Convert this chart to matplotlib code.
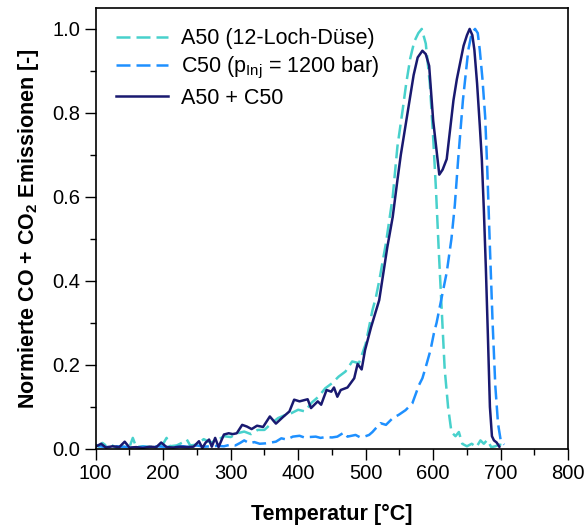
import numpy as np
import matplotlib.pyplot as plt
from matplotlib.ticker import MultipleLocator

plt.rcParams['font.family'] = ['Liberation Sans', 'DejaVu Sans']
plt.rcParams['mathtext.default'] = 'regular'

# A50 (12-Loch-Duese)
t_a50 = [100, 105, 110, 115, 120, 130, 140, 150, 155, 160,
         170, 180, 190, 200, 205, 210, 220, 230, 235, 240,
         250, 260, 270, 280, 290, 300, 310, 320, 330, 340,
         350, 360, 370, 380, 390, 400, 410, 420, 430, 440,
         450, 460, 470, 480, 490, 500, 505, 510, 515, 520,
         530, 540, 547, 555, 560, 566, 572, 578, 583, 589,
         595, 600, 604, 608, 612, 617, 622, 627, 633, 638,
         643, 650, 657, 664, 670, 675, 680, 686, 692, 698, 704]
v_a50 = [0.01, 0.005, 0.014, 0.008, 0.012, 0.003, 0.005, 0.004, 0.026, 0.004,
         0.006, 0.004, 0.006, 0.012, 0.026, 0.006, 0.008, 0.016, 0.022, 0.008,
         0.01, 0.023, 0.015, 0.02, 0.03, 0.028, 0.037, 0.041, 0.035, 0.045,
         0.045, 0.06, 0.073, 0.08, 0.085, 0.093, 0.089, 0.11, 0.124, 0.144,
         0.156, 0.172, 0.184, 0.208, 0.204, 0.25, 0.29, 0.33, 0.36, 0.40,
         0.49, 0.60, 0.72, 0.81, 0.87, 0.93, 0.97, 0.99, 1.0, 0.965,
         0.87, 0.74, 0.62, 0.48, 0.35, 0.19, 0.10, 0.04, 0.03, 0.04,
         0.012, 0.006, 0.012, 0.004, 0.02, 0.012, 0.021, 0.004, 0.006, 0.01, 0.008]

# C50 (p_Inj = 1200 bar)
t_c50 = [100, 110, 120, 130, 140, 150, 160, 170, 180, 190,
         200, 210, 220, 230, 240, 250, 260, 270, 280, 290,
         300, 307, 314, 320, 328, 335, 343, 352, 360, 367,
         375, 383, 392, 402, 409, 416, 426, 433, 441, 450,
         458, 463, 468, 473, 479, 485, 491, 498, 505, 510,
         515, 522, 530, 540, 549, 559, 569, 579, 584, 589,
         596, 601, 605, 610, 615, 620, 627, 632, 637, 644,
         652, 657, 662, 666, 669, 673, 677, 680, 684, 688,
         692, 696, 700, 705]
v_c50 = [0.008, 0.005, 0.004, 0.006, 0.005, 0.004, 0.003, 0.005, 0.004, 0.006,
         0.005, 0.004, 0.005, 0.006, 0.004, 0.008, 0.005, 0.006, 0.007, 0.006,
         0.01, 0.008, 0.014, 0.02, 0.013, 0.016, 0.012, 0.013, 0.015, 0.017,
         0.025, 0.022, 0.029, 0.031, 0.027, 0.028, 0.029, 0.026, 0.028, 0.027,
         0.029, 0.034, 0.039, 0.029, 0.031, 0.033, 0.028, 0.029, 0.033, 0.04,
         0.049, 0.061, 0.057, 0.073, 0.081, 0.092, 0.108, 0.152, 0.168, 0.195,
         0.235, 0.275, 0.30, 0.34, 0.38, 0.42, 0.50, 0.58, 0.69, 0.83,
         0.95, 0.99, 1.0, 0.99, 0.95, 0.88, 0.79, 0.67, 0.48, 0.30,
         0.15, 0.06, 0.02, 0.01]

# A50 + C50
t_mix = [100, 108, 115, 125, 135, 143, 150, 160, 170, 180,
         190, 197, 205, 215, 225, 235, 245, 253, 258, 263,
         268, 272, 277, 282, 290, 297, 303, 309, 317, 324,
         331, 339, 348, 358, 367, 377, 387, 394, 402, 414,
         419, 429, 434, 442, 449, 453, 458, 463, 473, 483,
         488, 494, 499, 508, 514, 520, 532, 540, 547, 552,
         558, 565, 571, 577, 584, 589, 594, 600, 605, 609,
         614, 620, 625, 630, 635, 640, 645, 650, 654, 658,
         661, 665, 669, 672, 675, 678, 681, 684, 687, 690,
         694, 698]
v_mix = [0.005, 0.012, 0.003, 0.006, 0.004, 0.017, 0.003, 0.004, 0.002, 0.005,
         0.004, 0.015, 0.004, 0.003, 0.005, 0.004, 0.005, 0.018, 0.002, 0.015,
         0.022, 0.005, 0.026, 0.004, 0.034, 0.037, 0.035, 0.037, 0.057, 0.053,
         0.047, 0.055, 0.052, 0.077, 0.06, 0.075, 0.089, 0.117, 0.113, 0.118,
         0.097, 0.113, 0.105, 0.14, 0.136, 0.146, 0.124, 0.14, 0.146, 0.168,
         0.202, 0.189, 0.235, 0.29, 0.322, 0.354, 0.48, 0.552, 0.64, 0.70,
         0.76, 0.83, 0.89, 0.932, 0.948, 0.94, 0.912, 0.781, 0.71, 0.653,
         0.665, 0.69, 0.76, 0.83, 0.88, 0.92, 0.96, 0.985, 1.0, 0.985,
         0.95, 0.87, 0.77, 0.69, 0.57, 0.43, 0.27, 0.10, 0.03, 0.02,
         0.015, 0.005]

fig = plt.figure(figsize=(5.87, 5.28), dpi=100)
ax = fig.add_axes([0.163, 0.150, 0.805, 0.835])

ax.plot(t_a50, v_a50, color='#48D1CC', lw=1.8, dashes=(5.6, 2.4), label='A50 (12-Loch-Düse)')
ax.plot(t_c50, v_c50, color='#1E90FF', lw=1.8, dashes=(5.6, 2.4), label=r'C50 (p$_{Inj}$ = 1200 bar)')
ax.plot(t_mix, v_mix, color='#191970', lw=1.8, label='A50 + C50')

ax.set_xlim(100, 800)
ax.set_ylim(0, 1.05)
ax.xaxis.set_major_locator(MultipleLocator(100))
ax.xaxis.set_minor_locator(MultipleLocator(50))
ax.yaxis.set_major_locator(MultipleLocator(0.2))
ax.yaxis.set_minor_locator(MultipleLocator(0.1))
ax.yaxis.set_major_formatter(plt.FormatStrFormatter('%.1f'))
ax.tick_params(which='major', length=8, width=1, labelsize=14.5, direction='out', pad=3)
ax.tick_params(which='minor', length=4.5, width=1, direction='out')
for s in ax.spines.values():
    s.set_linewidth(1.2)

ax.set_xlabel('Temperatur [°C]', fontsize=15.5, fontweight='bold', labelpad=15)
ax.set_ylabel(r'Normierte CO + CO$_2$ Emissionen [-]', fontsize=15.5, fontweight='bold', labelpad=8)

ax.legend(loc='upper left', frameon=False, fontsize=15.5, handlelength=2.4,
          labelspacing=0.28, handletextpad=0.6, borderaxespad=0.55)

fig.savefig('out.png', dpi=100)
